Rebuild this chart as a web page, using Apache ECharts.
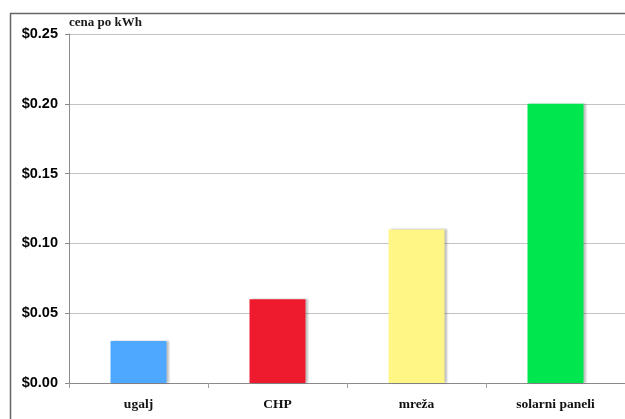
<!DOCTYPE html>
<html>
<head>
<meta charset="utf-8">
<script src="https://cdn.jsdelivr.net/npm/echarts@6/dist/echarts.min.js"></script>
<style>
  html, body { margin: 0; padding: 0; background: #fff; }
  #chart { width: 625px; height: 419px; }
</style>
</head>
<body>
<div id="chart"></div>
<script>
// data
const categories = ["ugalj", "CHP", "mreža", "solarni paneli"];
const prices = [0.03, 0.06, 0.11, 0.20];
const barColors = ["#4fa8ff", "#ee1b2e", "#fff685", "#00e64f"];

const chart = echarts.init(document.getElementById("chart"), null, { renderer: "canvas" });

const option = {
  backgroundColor: "#fff",
  animation: false,
  graphic: [
    {
      type: "rect",
      shape: { x: 10.5, y: 13.5, width: 700, height: 500 },
      style: { fill: "none", stroke: "#666", lineWidth: 1.5 },
      z: -1
    },
    {
      type: "text",
      left: 69,
      top: 16,
      style: {
        text: "cena po kWh",
        font: "bold 13px 'Liberation Serif', serif",
        fill: "#1a1a1a"
      }
    }
  ],
  grid: {
    left: 69,
    right: 0,
    top: 34,
    bottom: 36,
    containLabel: false
  },
  xAxis: {
    type: "category",
    data: categories,
    axisLine: { show: true, lineStyle: { color: "#8a8a8a", width: 1 } },
    axisTick: { show: true, length: 5, lineStyle: { color: "#a0a0a0" } },
    axisLabel: {
      margin: 15,
      color: "#111",
      fontFamily: "'Liberation Serif', serif",
      fontWeight: "bold",
      fontSize: 13.5
    }
  },
  yAxis: {
    type: "value",
    min: 0,
    max: 0.25,
    interval: 0.05,
    axisLine: { show: true, lineStyle: { color: "#8a8a8a", width: 1 } },
    axisTick: { show: true, length: 4, lineStyle: { color: "#8a8a8a" } },
    splitLine: { show: true, lineStyle: { color: "#c4c4c4", width: 1 } },
    axisLabel: {
      margin: 11,
      color: "#000",
      fontFamily: "'Liberation Sans', Arial, sans-serif",
      fontWeight: "bold",
      fontSize: 14.5,
      formatter: (v) => "$" + v.toFixed(2)
    }
  },
  series: [
    {
      type: "bar",
      data: prices.map((v, i) => ({
        value: v,
        itemStyle: { color: barColors[i] }
      })),
      barWidth: 56,
      itemStyle: {
        shadowColor: "rgba(0,0,0,0.25)",
        shadowBlur: 2,
        shadowOffsetX: 2,
        shadowOffsetY: 0
      }
    }
  ]
};

chart.setOption(option);
</script>
</body>
</html>
